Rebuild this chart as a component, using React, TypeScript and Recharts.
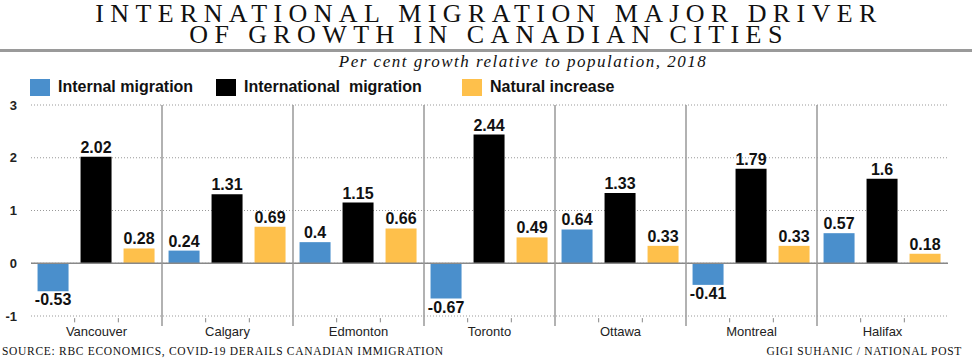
import React from 'react';
import { BarChart, Bar, XAxis, YAxis, CartesianGrid, ReferenceLine, LabelList } from 'recharts';

const cities = ['Vancouver', 'Calgary', 'Edmonton', 'Toronto', 'Ottawa', 'Montreal', 'Halifax'];
const internalMigration = [-0.53, 0.24, 0.4, -0.67, 0.64, -0.41, 0.57];
const internationalMigration = [2.02, 1.31, 1.15, 2.44, 1.33, 1.79, 1.6];
const naturalIncrease = [0.28, 0.69, 0.66, 0.49, 0.33, 0.33, 0.18];
const yTicks = [-1, 0, 1, 2, 3];

const BLUE = '#4a8fcc';
const BLACK = '#000000';
const YELLOW = '#fec04b';

const data = cities.map((city, i) => ({
  city,
  idx: i,
  internal: internalMigration[i],
  international: internationalMigration[i],
  natural: naturalIncrease[i],
}));

// separators between cities and the small ticks under each bar gap
const separators = cities.slice(1).map((_, i) => i + 1);
const minorTicks = cities.flatMap((_, i) => [i + 1 / 3, i + 2 / 3]);

const valueLabel = (props: any) => {
  const { x, y, width, height, value } = props;
  const top = Math.min(y, y + height);
  const bottom = Math.max(y, y + height);
  const cx = x + width / 2;
  const neg = value < 0;
  return (
    <text
      x={cx}
      y={neg ? bottom + 14 : top - 4}
      textAnchor="middle"
      fontFamily="'Liberation Sans', Arial, sans-serif"
      fontWeight={700}
      fontSize={16}
      fill="#111"
    >
      {value}
    </text>
  );
};

const legendItems = [
  { label: 'Internal migration', color: BLUE, left: 30 },
  { label: 'International  migration', color: BLACK, left: 216 },
  { label: 'Natural increase', color: YELLOW, left: 462 },
];

const footStyle: React.CSSProperties = {
  position: 'absolute', top: 345, fontFamily: "'Liberation Serif', serif", fontSize: 11.5,
  letterSpacing: 0.7, color: '#111', whiteSpace: 'nowrap',
};

export default function App() {
  return (
    <div style={{ position: 'absolute', left: 0, top: 0, width: 972, height: 364, background: '#fff', overflow: 'hidden' }}>
      <div
        style={{
          position: 'absolute', top: 3, left: 3, width: 972, textAlign: 'center', whiteSpace: 'nowrap',
          fontFamily: "'Liberation Serif', serif", fontSize: 26, letterSpacing: 6.4, lineHeight: '21px', color: '#111',
        }}
      >
        INTERNATIONAL MIGRATION MAJOR DRIVER
        <br />
        OF GROWTH IN CANADIAN CITIES
      </div>
      <div style={{ position: 'absolute', top: 49, left: 0, width: 972, height: 3, background: '#9a9a9a' }} />
      <div
        style={{
          position: 'absolute', top: 52, left: 37, width: 972, textAlign: 'center',
          fontFamily: "'Liberation Serif', serif", fontStyle: 'italic', fontSize: 17, letterSpacing: 1.5, color: '#111',
        }}
      >
        Per cent growth relative to population, 2018
      </div>
      {legendItems.map((it) => (
        <div key={it.label} style={{ position: 'absolute', top: 78, left: it.left, display: 'flex', alignItems: 'center' }}>
          <div style={{ width: 20, height: 17, background: it.color }} />
          <div
            style={{
              marginLeft: 8, fontFamily: "'Liberation Sans', Arial, sans-serif", fontWeight: 700, fontSize: 16,
              color: '#111', whiteSpace: 'pre',
            }}
          >
            {it.label}
          </div>
        </div>
      ))}
      <div style={{ position: 'absolute', top: 0, left: 0 }}>
        <BarChart
          width={972}
          height={364}
          data={data}
          margin={{ top: 105, right: 24, bottom: 18, left: 0 }}
          barCategoryGap="5%"
          barGap={12}
        >
          <CartesianGrid vertical={false} stroke="#999" strokeDasharray="1 2" />
          <XAxis
            xAxisId="c"
            dataKey="city"
            axisLine={false}
            tickLine={false}
            tickSize={0}
            tickMargin={11}
            height={30}
            interval={0}
            tick={{ fontSize: 13, fill: '#222', fontFamily: "'Liberation Sans', Arial, sans-serif" }}
          />
          <XAxis xAxisId="n" type="number" dataKey="idx" domain={[0, 7]} allowDataOverflow hide />
          <YAxis
            domain={[-1, 3]}
            ticks={yTicks}
            width={31}
            axisLine={false}
            tickLine={false}
            tickSize={0}
            tickMargin={14}
            tick={{ fontSize: 13, fill: '#222', fontWeight: 700, fontFamily: "'Liberation Sans', Arial, sans-serif" }}
          />
          <ReferenceLine xAxisId="c" y={0} stroke="#888" strokeWidth={1.5} />
          {separators.map((s) => (
            <ReferenceLine
              key={'s' + s}
              xAxisId="n"
              segment={[{ x: s, y: 3 }, { x: s, y: -1.19 }]}
              ifOverflow="visible"
              stroke="#999"
              strokeWidth={1.5}
            />
          ))}
          {minorTicks.map((t) => (
            <ReferenceLine
              key={'t' + t}
              xAxisId="n"
              segment={[{ x: t, y: -1.04 }, { x: t, y: -1.12 }]}
              ifOverflow="visible"
              stroke="#888"
              strokeWidth={1}
            />
          ))}
          <Bar xAxisId="c" dataKey="internal" fill={BLUE} isAnimationActive={false}>
            <LabelList dataKey="internal" content={valueLabel} />
          </Bar>
          <Bar xAxisId="c" dataKey="international" fill={BLACK} isAnimationActive={false}>
            <LabelList dataKey="international" content={valueLabel} />
          </Bar>
          <Bar xAxisId="c" dataKey="natural" fill={YELLOW} isAnimationActive={false}>
            <LabelList dataKey="natural" content={valueLabel} />
          </Bar>
        </BarChart>
      </div>
      <div style={{ ...footStyle, left: 2 }}>SOURCE: RBC ECONOMICS, COVID-19 DERAILS CANADIAN IMMIGRATION</div>
      <div style={{ ...footStyle, right: 10 }}>GIGI SUHANIC / NATIONAL POST</div>
    </div>
  );
}
